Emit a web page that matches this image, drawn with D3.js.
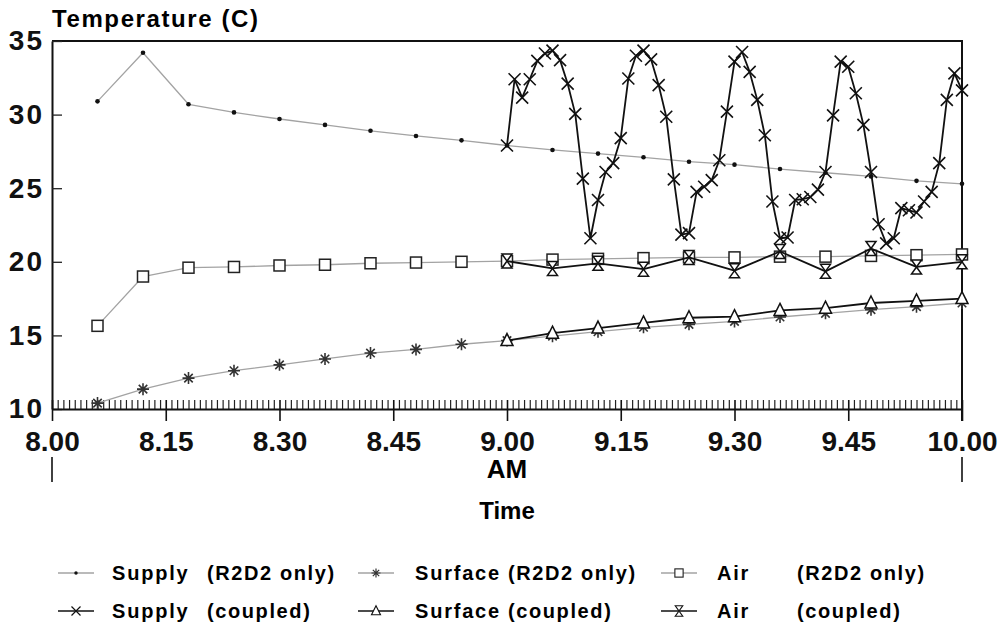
<!DOCTYPE html>
<html>
<head>
<meta charset="utf-8">
<script src="https://cdn.jsdelivr.net/npm/d3@7"></script>
<style>
body { margin: 0; background: #fff; }
svg { display: block; font-family: "Liberation Sans", Arial, sans-serif; font-weight: bold; }
</style>
</head>
<body>
<svg width="1000" height="629"></svg>
<script>
// minutes after 8.00 AM
var minutesR2D2 = [6, 12, 18, 24, 30, 36, 42, 48, 54, 60, 66, 72, 78, 84, 90, 96, 102, 108, 114, 120];
var supplyR2D2 = [30.9, 34.2, 30.7, 30.15, 29.7, 29.3, 28.9, 28.55, 28.25, 27.9, 27.6, 27.35, 27.1, 26.8, 26.6, 26.3, 26.05, 25.8, 25.5, 25.3];
var surfaceR2D2 = [10.4, 11.35, 12.1, 12.6, 13.0, 13.4, 13.8, 14.05, 14.4, 14.65, 14.95, 15.25, 15.55, 15.75, 15.95, 16.25, 16.5, 16.75, 16.95, 17.2];
var airR2D2 = [15.65, 19.0, 19.6, 19.65, 19.75, 19.8, 19.9, 19.95, 20.0, 20.05, 20.15, 20.2, 20.25, 20.3, 20.3, 20.35, 20.35, 20.4, 20.45, 20.5];

var minutesCoupled = [60, 66, 72, 78, 84, 90, 96, 102, 108, 114, 120];
var surfaceCoupled = [14.65, 15.15, 15.5, 15.85, 16.2, 16.27, 16.7, 16.85, 17.2, 17.35, 17.5];
var airCoupled = [20.05, 19.55, 19.9, 19.5, 20.3, 19.4, 20.7, 19.35, 20.9, 19.65, 20.0];

var minutesSupplyCoupled = [60, 61, 62, 63, 64, 65, 66, 67, 68, 69, 70, 71, 72, 73, 74, 75, 76, 77, 78, 79,
  80, 81, 82, 83, 84, 85, 86, 87, 88, 89, 90, 91, 92, 93, 94, 95, 96, 97, 98, 99,
  100, 101, 102, 103, 104, 105, 106, 107, 108, 109, 110, 111, 112, 113, 114, 115, 116, 117, 118, 119, 120];
var supplyCoupled = [27.9, 32.4, 31.15, 32.4, 33.65, 34.15, 34.35, 33.7, 32.1, 30.05, 25.65, 21.6, 24.2, 26.1, 26.7, 28.4,
  32.45, 34.0, 34.35, 33.75, 32.0, 29.85, 25.6, 21.85, 21.95, 24.75, 25.1, 25.55, 26.9, 30.2,
  33.6, 34.25, 32.9, 31.0, 28.6, 24.1, 21.6, 21.65, 24.2, 24.25, 24.4, 24.9, 26.1, 29.95,
  33.6, 33.25, 31.45, 29.3, 26.1, 22.55, 21.25, 21.6, 23.65, 23.5, 23.35, 24.1, 24.75, 26.7, 31.0, 32.8, 31.65];

var xTicks = [0, 15, 30, 45, 60, 75, 90, 105, 120];
var yTicks = [10, 15, 20, 25, 30, 35];
var legendNames = ["Supply", "Surface", "Air"];
var legendQualifiers = ["(R2D2 only)", "(coupled)"];

var gray = "#a3a3a3";
var svg = d3.select("svg");
var x = d3.scaleLinear().domain([0, 120]).range([52, 962]);
var y = d3.scaleLinear().domain([10, 35]).range([409, 41]);

function fmtTime(m) {
  return (8 + Math.floor(m / 60)) + "." + d3.format("02d")(m % 60);
}

// title
svg.append("text").attr("x", 52).attr("y", 27)
  .attr("font-size", 24).attr("letter-spacing", 1.6)
  .text("Temperature (C)");

// frame top + right
svg.append("path")
  .attr("d", "M52," + y(35) + "H962V421")
  .attr("fill", "none").attr("stroke", "#111").attr("stroke-width", 2);

// y axis
var gy = svg.append("g").attr("transform", "translate(52,0)")
  .call(d3.axisLeft(y).tickValues(yTicks).tickSize(-10).tickSizeOuter(0).tickPadding(8).tickFormat(d3.format("d")));
gy.select(".domain").attr("stroke", "#111").attr("stroke-width", 2);
gy.selectAll(".tick line").attr("stroke", "#222").attr("stroke-width", 1.3);
gy.selectAll("text").attr("font-size", 28).attr("letter-spacing", 2)
  .attr("font-family", "Liberation Sans, Arial, sans-serif").attr("font-weight", "bold").attr("fill", "#111");

// minor ticks along bottom
var minor = d3.range(0, 120.01, 0.75).filter(function (m) { return m % 15 !== 0; });
var gm = svg.append("g").attr("transform", "translate(0,409)")
  .call(d3.axisBottom(x).tickValues(minor).tickSize(-9).tickFormat(""));
gm.select(".domain").remove();
gm.selectAll(".tick line").attr("stroke", "#222").attr("stroke-width", 1.2);

// x axis
var gx = svg.append("g").attr("transform", "translate(0,409)")
  .call(d3.axisBottom(x).tickValues(xTicks).tickSize(12).tickSizeOuter(0).tickPadding(10).tickFormat(fmtTime));
gx.select(".domain").attr("stroke", "#111").attr("stroke-width", 2);
gx.selectAll(".tick line").attr("y1", -9).attr("stroke", "#111").attr("stroke-width", 1.6);
gx.selectAll("text").attr("font-size", 28)
  .attr("font-family", "Liberation Sans, Arial, sans-serif").attr("font-weight", "bold").attr("fill", "#111");

// end markers under the time labels
svg.selectAll(".endmark").data([0, 120]).enter().append("line")
  .attr("x1", function (d) { return x(d); }).attr("x2", function (d) { return x(d); })
  .attr("y1", 457).attr("y2", 482)
  .attr("stroke", "#111").attr("stroke-width", 1.6);

svg.append("text").attr("x", x(60)).attr("y", 478).attr("text-anchor", "middle")
  .attr("font-size", 26).text("AM");
svg.append("text").attr("x", x(60)).attr("y", 519).attr("text-anchor", "middle")
  .attr("font-size", 24).text("Time");

// markers
function marker(g, type, cx, cy) {
  if (type == "dot") {
    g.append("circle").attr("cx", cx).attr("cy", cy).attr("r", 2.3).attr("fill", "#111");
  } else if (type == "star") {
    var s = 6, d = "";
    [0, 45, 90, 135].forEach(function (a) {
      var r = a * Math.PI / 180;
      d += "M" + (cx - s * Math.cos(r)) + "," + (cy - s * Math.sin(r)) + "L" + (cx + s * Math.cos(r)) + "," + (cy + s * Math.sin(r));
    });
    g.append("path").attr("d", d).attr("stroke", "#333").attr("stroke-width", 1.6);
  } else if (type == "square") {
    g.append("rect").attr("x", cx - 5.5).attr("y", cy - 5.5).attr("width", 11).attr("height", 11)
      .attr("fill", "#fff").attr("stroke", "#222").attr("stroke-width", 1.5);
  } else if (type == "cross") {
    g.append("path")
      .attr("d", "M" + (cx - 6) + "," + (cy - 6) + "L" + (cx + 6) + "," + (cy + 6) + "M" + (cx + 6) + "," + (cy - 6) + "L" + (cx - 6) + "," + (cy + 6))
      .attr("stroke", "#111").attr("stroke-width", 1.6);
  } else if (type == "triangle") {
    g.append("path")
      .attr("d", "M" + cx + "," + (cy - 7) + "L" + (cx + 6) + "," + (cy + 5) + "L" + (cx - 6) + "," + (cy + 5) + "Z")
      .attr("fill", "#fff").attr("stroke", "#111").attr("stroke-width", 1.5);
  } else if (type == "hourglass") {
    g.append("path")
      .attr("d", "M" + (cx - 5) + "," + (cy - 7) + "H" + (cx + 5) + "L" + (cx - 5) + "," + (cy + 7) + "H" + (cx + 5) + "Z")
      .attr("fill", "#fff").attr("stroke", "#111").attr("stroke-width", 1.5);
  }
}

var line = d3.line().x(function (d) { return x(d[0]); }).y(function (d) { return y(d[1]); });

function drawSeries(times, values, color, width, type) {
  var data = d3.zip(times, values);
  var g = svg.append("g");
  g.append("path").datum(data).attr("d", line)
    .attr("fill", "none").attr("stroke", color).attr("stroke-width", width).attr("stroke-linejoin", "round");
  data.forEach(function (d) { marker(g, type, x(d[0]), y(d[1])); });
}

drawSeries(minutesR2D2, supplyR2D2, gray, 1.3, "dot");
drawSeries(minutesR2D2, airR2D2, gray, 1.3, "square");
drawSeries(minutesR2D2, surfaceR2D2, gray, 1.3, "star");
drawSeries(minutesCoupled, surfaceCoupled, "#111", 1.8, "triangle");
drawSeries(minutesCoupled, airCoupled, "#111", 1.8, "hourglass");
drawSeries(minutesSupplyCoupled, supplyCoupled, "#111", 1.8, "cross");

// legend
var legTypes = [["dot", "star", "square"], ["cross", "triangle", "hourglass"]];
var markX = [76, 376, 679], nameX = [112, 415, 717], qualX = [207, 508, 797];
var rowY = [573, 611];
legTypes.forEach(function (types, r) {
  types.forEach(function (t, c) {
    var g = svg.append("g");
    g.append("line").attr("x1", markX[c] - 18).attr("x2", markX[c] + 18)
      .attr("y1", rowY[r]).attr("y2", rowY[r])
      .attr("stroke", r == 0 ? gray : "#111").attr("stroke-width", r == 0 ? 1.3 : 1.6);
    var gm = g.append("g").attr("transform", "translate(" + markX[c] + "," + rowY[r] + ") scale(0.75)");
    marker(gm, t, 0, 0);
    g.append("text").attr("x", nameX[c]).attr("y", rowY[r] + 7)
      .attr("font-size", 20).attr("letter-spacing", 1.8).text(legendNames[c]);
    g.append("text").attr("x", qualX[c]).attr("y", rowY[r] + 7)
      .attr("font-size", 20).attr("letter-spacing", 1.6).text(legendQualifiers[r]);
  });
});
</script>
</body>
</html>
